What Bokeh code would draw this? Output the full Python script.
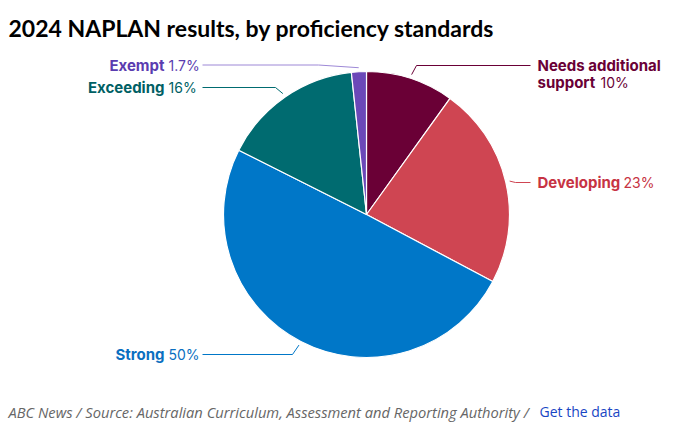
import math
from bokeh.plotting import figure
from bokeh.models import Range1d, ColumnDataSource
from bokeh.core.properties import value
from bokeh.embed import file_html
from bokeh.resources import INLINE

# ---- data ----
categories = ["Needs additional support", "Developing", "Strong", "Exceeding", "Exempt"]
values = [10, 23, 50, 16, 1.7]
pct_labels = ["10%", "23%", "50%", "16%", "1.7%"]
title_text = "2024 NAPLAN results, by proficiency standards"
footer_text = "ABC News / Source: Australian Curriculum, Assessment and Reporting Authority /"
footer_link = "Get the data"

# ---- style ----
slice_colors = ["#6a0036", "#cf4552", "#0077c8", "#006b70", "#6b48b8"]
text_colors = ["#6a0036", "#c73343", "#0a6fc0", "#005f64", "#5a3cb0"]
line_colors = ["#6a0036", "#cf4552", "#0077c8", "#006b70", "#9d88d6"]

W, H = 675, 425
CX, CY, R = 366, 214, 143  # pixel layout
TFONT = "Lato"
LFONT = "Inter"
FFONT = "Open Sans"


def Y(py):
    return H - py


p = figure(width=W, height=H, x_range=Range1d(0, W), y_range=Range1d(0, H),
           output_backend="svg", toolbar_location=None, min_border=0,
           background_fill_color="white", border_fill_color="white")
p.axis.visible = False
p.grid.visible = False
p.outline_line_color = None

total = sum(values)
fr = [v / total for v in values]
cum = [0.0]
for f in fr:
    cum.append(cum[-1] + f)
start = [math.pi / 2 - 2 * math.pi * cum[i + 1] for i in range(len(values))]
end = [math.pi / 2 - 2 * math.pi * cum[i] for i in range(len(values))]
src = ColumnDataSource(dict(start=start, end=end, color=slice_colors, cat=categories))
p.wedge(x=CX, y=Y(CY), radius=R, start_angle="start", end_angle="end",
        direction="anticlock", fill_color="color", line_color="white",
        line_width=1.2, source=src)

# ---- leader lines (anchor from slice mid-angle) ----
label_y = [65, 182, 354, 87, 64.5]
elbow_x = [416, 515, 292, 275, 318]
end_x = [530, 530, 202, 202, 202]
RA = 147
xs, ys = [], []
for i in range(len(values)):
    mid = 2 * math.pi * (cum[i] + cum[i + 1]) / 2
    ax = CX + RA * math.sin(mid)
    ay = CY - RA * math.cos(mid)
    xs.append([ax, elbow_x[i], end_x[i]])
    ys.append([Y(ay), Y(label_y[i]), Y(label_y[i])])
p.multi_line(xs=xs, ys=ys, line_color=line_colors, line_width=1)

# ---- labels ----
LS = "15px"
PS = "14px"
# right side
p.text(x=[537], y=[Y(65)], text=["Needs additional"], text_font=value(LFONT),
       text_font_style="bold", text_font_size=LS, text_color=text_colors[0],
       text_baseline="middle", text_align="left")
p.text(x=[537], y=[Y(82)], text=["support"], text_font=value(LFONT),
       text_font_style="bold", text_font_size=LS, text_color=text_colors[0],
       text_baseline="middle", text_align="left")
p.text(x=[600], y=[Y(82)], text=[pct_labels[0]], text_font=value(LFONT),
       text_font_size=PS, text_color=text_colors[0],
       text_baseline="middle", text_align="left")
p.text(x=[537], y=[Y(182)], text=["Developing"], text_font=value(LFONT),
       text_font_style="bold", text_font_size=LS, text_color=text_colors[1],
       text_baseline="middle", text_align="left")
p.text(x=[623], y=[Y(182)], text=[pct_labels[1]], text_font=value(LFONT),
       text_font_size=PS, text_color=text_colors[1],
       text_baseline="middle", text_align="left")
# left side
for i in [2, 3, 4]:
    p.text(x=[164], y=[Y(label_y[i])], text=[categories[i]], text_font=value(LFONT),
           text_font_style="bold", text_font_size=LS, text_color=text_colors[i],
           text_baseline="middle", text_align="right")
    p.text(x=[168], y=[Y(label_y[i])], text=[pct_labels[i]], text_font=value(LFONT),
           text_font_size=PS, text_color=text_colors[i],
           text_baseline="middle", text_align="left")

# ---- title & footer ----
p.text(x=[8], y=[Y(27)], text=[title_text], text_font=value(TFONT),
       text_font_style="bold", text_font_size="23px", text_color="#000000",
       text_baseline="alphabetic", text_align="left")
p.text(x=[8], y=[Y(411)], text=[footer_text], text_font=value(FFONT),
       text_font_style="italic", text_font_size="14.7px", text_color="#666666",
       text_baseline="alphabetic", text_align="left")
p.text(x=[539], y=[Y(411)], text=[footer_link], text_font=value(FFONT),
       text_font_size="14px", text_color="#1846c4",
       text_baseline="alphabetic", text_align="left")

open("out.html", "w").write(file_html(p, INLINE))
